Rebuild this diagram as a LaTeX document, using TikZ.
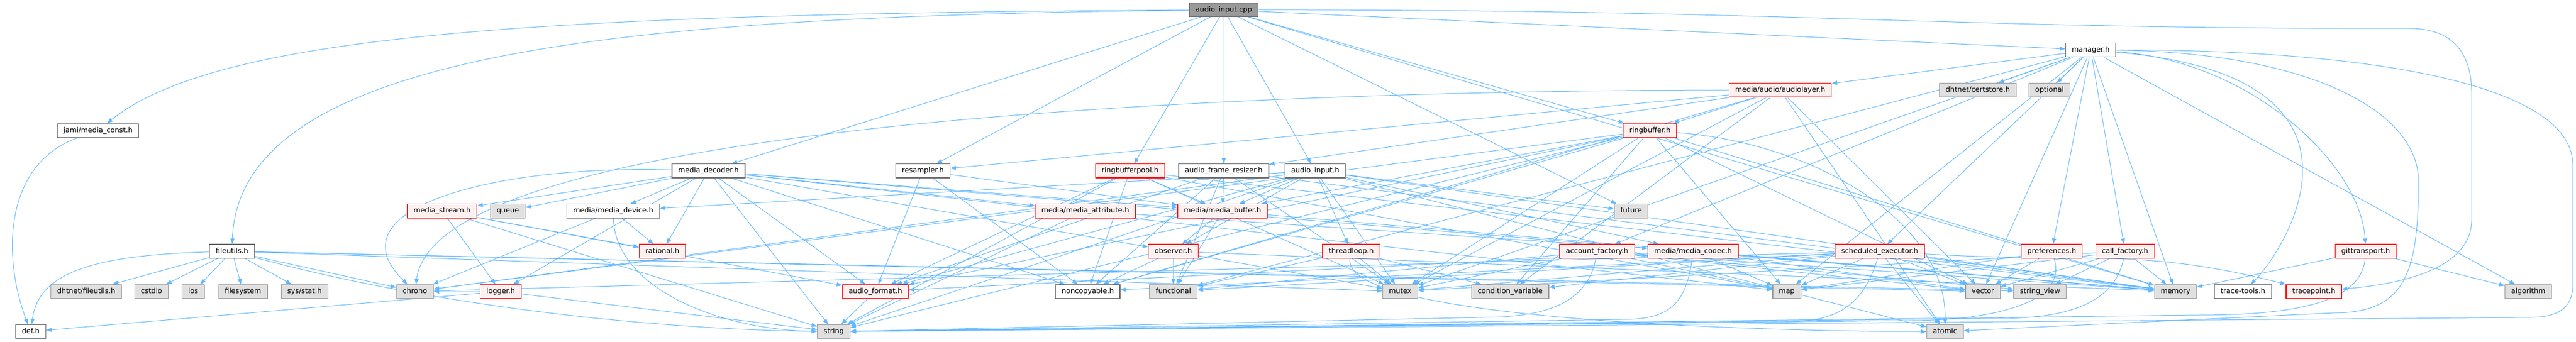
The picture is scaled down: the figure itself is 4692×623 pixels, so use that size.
\documentclass[tikz,border=0pt]{standalone}
\usepackage{fontspec}
\setmainfont{DejaVu Sans}
\usetikzlibrary{arrows.meta,backgrounds}
\definecolor{linkblue}{HTML}{63B8FF}
\definecolor{boxgray}{HTML}{666666}
\definecolor{boxred}{HTML}{FF0000}
\definecolor{boxpink}{HTML}{FFF0F0}
\definecolor{sysgray}{HTML}{999999}
\definecolor{sysfill}{HTML}{E0E0E0}
\definecolor{rootfill}{HTML}{999999}
\tikzset{fn/.append style={draw=boxgray,fill=white,line width=1.2pt,minimum height=25.4pt,inner xsep=11.3pt,inner ysep=0pt,text height=9.6pt,text depth=2.7pt,font=\fontsize{12.9pt}{15pt}\selectfont}}
\tikzset{tn/.style={fn,draw=boxred,fill=boxpink},sn/.style={fn,draw=sysgray,fill=sysfill},cn/.style={fn,fill=rootfill}}
\tikzset{dep/.style={draw=linkblue,line width=1pt,-{Triangle[length=10pt,width=7.5pt]}},every edge/.style={dep}}

\begin{document}
\begin{tikzpicture}[x=1pt,y=-1pt]
\useasboundingbox (0,0) rectangle (4692,623);
% \SetUpFiles
\node[cn] (main) at (2229,17.9) {audio\_input.cpp};
\node[fn] (mgr) at (3808,91.2) {manager.h};
\node[tn] (alayer) at (3242.5,164.1) {media/audio/audiolayer.h};
\node[sn] (certstore) at (3602.5,164.1) {dhtnet/certstore.h};
\node[sn] (optional) at (3733,164.1) {optional};
\node[fn] (mconst) at (178.5,237.8) {jami/media\_const.h};
\node[tn] (rbuf) at (3005.2,237.8) {ringbuffer.h};
\node[fn] (mdec) at (1290.5,311.3) {media\_decoder.h};
\node[fn] (resamp) at (1681,311.3) {resampler.h};
\node[tn] (rbpool) at (2058.3,311.3) {ringbufferpool.h};
\node[fn] (resizer) at (2229,311.3) {audio\_frame\_resizer.h};
\node[fn] (ainput) at (2395.6,311.3) {audio\_input.h};
\node[tn] (mstream) at (805.3,384.4) {media\_stream.h};
\node[sn] (queue) at (925,384.4) {queue};
\node[fn] (mdevice) at (1117,384.4) {media/media\_device.h};
\node[tn] (mattr) at (1976.8,384.4) {media/media\_attribute.h};
\node[tn] (mbuf) at (2226.7,384.4) {media/media\_buffer.h};
\node[sn] (future) at (2971,384.4) {future};
\node[fn] (futil) at (422.5,457.7) {fileutils.h};
\node[tn] (rational) at (1206.5,457.7) {rational.h};
\node[tn] (observer) at (2137,457.7) {observer.h};
\node[tn] (tloop) at (2461,457.7) {threadloop.h};
\node[tn] (accfac) at (2909,457.7) {account\_factory.h};
\node[tn] (mcodec) at (3083.8,457.7) {media/media\_codec.h};
\node[tn] (sched) at (3423.8,457.7) {scheduled\_executor.h};
\node[tn] (prefs) at (3737,457.7) {preferences.h};
\node[tn] (callfac) at (3870.6,457.7) {call\_factory.h};
\node[tn] (gitt) at (4309,457.7) {gittransport.h};
\node[sn] (dhtfu) at (157,531) {dhtnet/fileutils.h};
\node[sn] (cstdio) at (276,531) {cstdio};
\node[sn] (ios) at (352,531) {ios};
\node[sn] (filesystem) at (442.6,531) {filesystem};
\node[sn] (sysstat) at (554.7,531) {sys/stat.h};
\node[sn] (chrono) at (755.8,531) {chrono};
\node[tn] (logger) at (912,531) {logger.h};
\node[tn] (afmt) at (1594.5,531) {audio\_format.h};
\node[fn] (noncopy) at (1981.2,531) {noncopyable.h};
\node[sn] (functional) at (2137.3,531) {functional};
\node[sn] (mutex) at (2550.4,531) {mutex};
\node[sn] (condvar) at (2750.6,531) {condition\_variable};
\node[sn] (map) at (3254.5,531) {map};
\node[sn] (vector) at (3611.7,531) {vector};
\node[sn] (strview) at (3715.8,531) {string\_view};
\node[sn] (memory) at (3962.4,531) {memory};
\node[fn] (ttools) at (4085.3,531) {trace-tools.h};
\node[tn] (tpoint) at (4214.5,531) {tracepoint.h};
\node[sn] (algorithm) at (4605,531) {algorithm};
\node[fn] (def) at (56,604) {def.h};
\node[sn] (string) at (1518.6,604) {string};
\node[sn] (atomic) at (3542.7,604) {atomic};
\begin{pgfonlayer}{background}
\path (main) edge (mdec) edge (resamp) edge (rbpool) edge (resizer) edge (ainput)
      edge (rbuf) edge (future) edge (mgr) edge (memory);
\draw[dep] (main) .. controls (1000,25) and (400,60) .. (mconst);
\draw[dep] (main) .. controls (1200,30) and (436,80) .. (futil);
\draw[dep] (main) .. controls (3300,18) and (3500,52) .. (4390,52) .. controls (4470,52) and (4502,100) .. (4502,170)
      -- (4502,400) .. controls (4502,480) and (4400,515) .. (tpoint);
\path (mgr) edge (alayer) edge (certstore) edge (optional) edge (accfac) edge (sched)
      edge (prefs) edge (callfac) edge (map) edge (vector) edge (memory) edge (functional)
      edge (mutex) edge (algorithm);
\draw[dep] (mgr) .. controls (4100,110) and (4300,300) .. (gitt);
\draw[dep] (mgr) .. controls (4380,140) and (4150,470) .. (ttools);
\draw[dep] (mgr) .. controls (4200,95) and (4405,200) .. (4405,330) .. controls (4405,500) and (4380,570) .. (4250,570) -- (atomic);
\draw[dep] (mgr) .. controls (4300,90) and (4686,150) .. (4686,300) -- (4686,520) .. controls (4686,560) and (4660,578) .. (4610,578) -- (string);
\path (alayer) edge (rbuf) edge (resizer) edge (resamp) edge (noncopy) edge (mutex)
      edge (condvar) edge (vector) edge (atomic);
\draw[dep] (alayer) .. controls (2500,164) and (800,200) .. (chrono);
\path (rbuf) edge (afmt) edge (mbuf) edge (noncopy) edge (condvar) edge (mutex)
      edge (chrono) edge (map) edge (vector) edge (memory) edge (string);
\draw[dep] (rbuf) .. controls (3300,260) and (3545,400) .. (atomic);
\path (mdec) edge (mstream) edge (queue) edge (mdevice) edge (rational) edge (logger)
      edge (afmt) edge (string) edge (mattr) edge (mbuf) edge (observer) edge (noncopy)
      edge (map) edge (memory);
\draw[dep] (mdec) .. controls (900,300) and (600,380) .. (chrono);
\path (resamp) edge (afmt) edge (mbuf) edge (noncopy);
\path (rbpool) edge (afmt) edge (mbuf) edge (noncopy) edge (map) edge (mutex) edge (string) edge (memory);
\path (resizer) edge (afmt) edge (mbuf) edge (noncopy) edge (functional) edge (mutex) edge (memory);
\path (ainput) edge (afmt) edge (mdevice) edge (mbuf) edge (observer) edge (tloop) edge (mcodec)
      edge (future) edge (mutex) edge (chrono) edge (memory) edge (string) edge (atomic);
\path (mstream) edge (rational) edge (logger) edge (afmt) edge (string);
\path (mdevice) edge (rational) edge (chrono);
\draw[dep] (mdevice) .. controls (1120,520) and (1300,600) .. (string);
\path (mattr) edge (mcodec) edge (string);
\path (mbuf) edge (observer) edge (functional) edge (memory);
\path (futil) edge (dhtfu) edge (cstdio) edge (ios) edge (filesystem) edge (sysstat) edge (chrono)
      edge (mutex) edge (vector) edge (strview);
\draw[dep] (futil) .. controls (800,560) and (1200,600) .. (string);
\draw[dep] (futil) .. controls (160,465) and (70,500) .. (def);
\draw[dep] (mconst) .. controls (5,300) and (5,470) .. (def);
\path (observer) edge (functional) edge (noncopy) edge (mutex) edge (memory);
\path (tloop) edge (mutex) edge (condvar) edge (functional);
\draw[dep] (tloop) .. controls (2440,590) and (3300,604) .. (atomic);
\path (accfac) edge (mutex) edge (map) edge (memory) edge (vector) edge (strview) edge (functional);
\draw[dep] (accfac) .. controls (2890,560) and (2800,578) .. (2700,578) -- (string);
\path (mcodec) edge (afmt) edge (map) edge (memory) edge (vector);
\draw[dep] (mcodec) .. controls (3070,565) and (3030,582) .. (2950,582) -- (string);
\path (sched) edge (map) edge (atomic) edge (vector) edge (functional) edge (mutex) edge (condvar)
      edge (chrono) edge (memory) edge (noncopy);
\draw[dep] (sched) .. controls (3800,480) and (3900,450) .. (tpoint);
\draw[dep] (sched) .. controls (3390,570) and (3330,586) .. (3250,586) -- (string);
\path (prefs) edge (vector) edge (map);
\draw[dep] (prefs) .. controls (3770,560) and (3600,584) .. (3480,584) -- (string);
\path (callfac) edge (memory) edge (vector) edge (map) edge (mutex) edge (strview);
\draw[dep] (callfac) .. controls (3850,560) and (3750,580) .. (3640,580) -- (string);
\path (gitt) edge (algorithm) edge (memory);
\draw[dep] (gitt) .. controls (4300,560) and (4150,574) .. (4000,574) -- (string);
\path (logger) edge (def) edge (chrono) edge (string);
\path (afmt) edge (string);
\end{pgfonlayer}
\end{tikzpicture}
\end{document}
